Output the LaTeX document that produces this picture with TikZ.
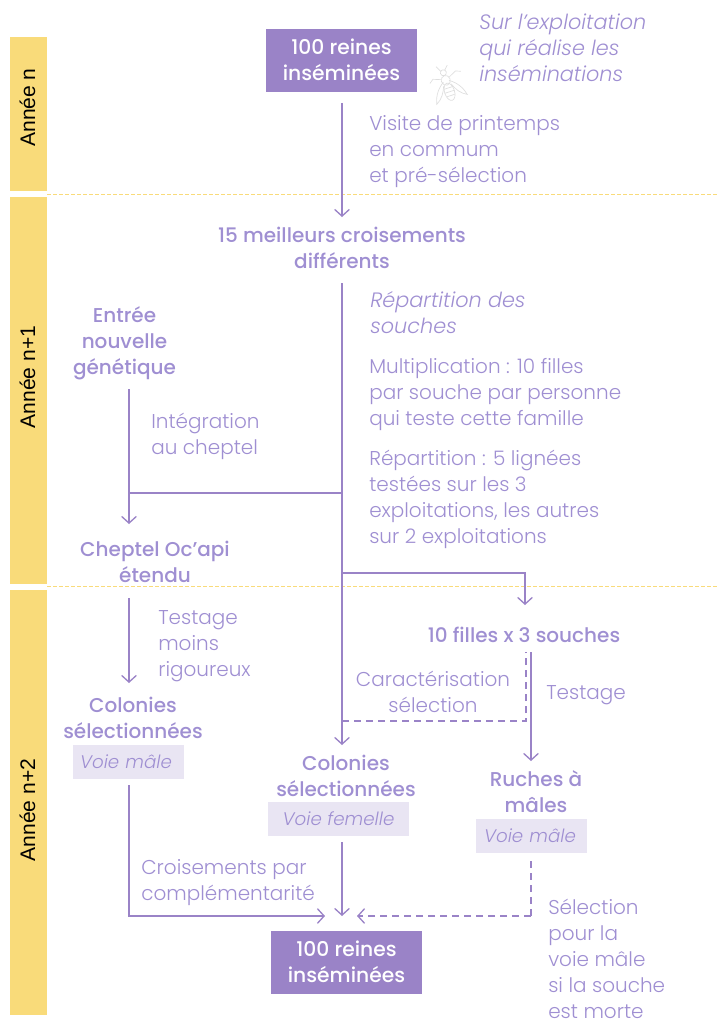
\documentclass[tikz,border=0pt]{standalone}
\usepackage{fontspec}
\setmainfont{Poppins Light}[BoldFont={Poppins Medium},ItalicFont={Poppins Light Italic}]
\newfontfamily\anneefont{Liberation Sans}
\usetikzlibrary{arrows.meta}
\definecolor{mauve}{HTML}{9A83C7}
\definecolor{lilas}{HTML}{9F8FD2}
\definecolor{pale}{HTML}{E9E5F3}
\definecolor{jaune}{HTML}{F9DB7A}
\tikzset{
  txt/.style={text=lilas,inner sep=0pt,align=left,font=\fontsize{15}{19.5}\selectfont},
  tit/.style={text=lilas,inner sep=0pt,align=center,font=\fontsize{15}{19.5}\selectfont\bfseries},
  ita/.style={text=lilas,inner sep=0pt,align=left,font=\fontsize{15.6}{19.5}\selectfont\itshape},
  boite/.style={fill=mauve,text=white,minimum width=113.25pt,minimum height=47.25pt,inner sep=0pt,align=center,font=\fontsize{15.2}{19.5}\selectfont\bfseries},
  voie/.style={fill=pale,text=lilas,minimum height=25.5pt,inner ysep=0pt,font=\fontsize{13.7}{18}\selectfont\itshape},
  bande/.style={fill=jaune,minimum width=27.75pt,inner sep=0pt},
  annee/.style={text=black,inner sep=0pt,rotate=90,font=\fontsize{15.8}{18}\anneefont},
  sep/.style={jaune,line width=0.6pt,dashed,dash pattern=on 3pt off 1.5pt},
  flow/.style={mauve,line width=1pt,-{Straight Barb[length=5pt,width=11pt,line width=1pt]}},
  fil/.style={mauve,line width=1pt},
  tir/.style={mauve,line width=1pt,dashed,dash pattern=on 5pt off 4pt}
}
\begin{document}
\begin{tikzpicture}[x=0.75pt,y=-0.75pt]
  \useasboundingbox (0,0) rectangle (718,1021);
  % annees
  \node[bande,minimum height=115.5pt] (ba) at (28.5,114) {};
  \node[bande,minimum height=290.25pt] (bb) at (28.5,390.5) {};
  \node[bande,minimum height=318.75pt] (bc) at (28.5,802.5) {};
  \node[annee] (la) at (27.5,107.5) {Année n};
  \node[annee] (lb) at (27.5,377) {Année n+1};
  \node[annee] (lc) at (27.5,810) {Année n+2};
  \draw[sep] (47,194.5)--(718,194.5);
  \draw[sep] (47,586.5)--(718,586.5);
  % boites
  \node[boite] (aa) at (341.5,60.5) {\raisebox{1pt}{100 reines}\\\raisebox{1pt}{inséminées}};
  \node[boite] (ab) at (346.5,962.5) {\raisebox{1pt}{100 reines}\\\raisebox{1pt}{inséminées}};
  \node[ita,anchor=west] (ac) at (479,48) {Sur l’exploitation\\qui réalise les\\inséminations};
  \node[txt,anchor=west] (ad) at (369,152) {Visite de printemps\\en commum\\et pré-sélection};
  \node[tit] (ae) at (342,248) {15 meilleurs croisements\\différents};
  \node[ita,anchor=west] (af) at (370,313) {Répartition des\\souches};
  \node[txt,anchor=west] (ag) at (369,395) {Multiplication : 10 filles\\par souche par personne\\qui teste cette famille};
  \node[txt,anchor=west] (ah) at (369,499) {Répartition : 5 lignées\\testées sur les 3\\exploitations, les autres\\sur 2 exploitations};
  \node[tit] (ca) at (124.5,343) {Entrée\\nouvelle\\génétique};
  \node[txt,anchor=west] (cb) at (151,436) {Intégration\\au cheptel};
  \node[tit] (cc) at (155,562) {Cheptel Oc’api\\étendu};
  \node[txt,anchor=west] (cd) at (158,646) {Testage\\moins\\rigoureux};
  \node[tit] (ce) at (133,718) {Colonies\\sélectionnées};
  \node[voie,inner xsep=5.25pt,text width=72.75pt,align=left] (cf) at (128.5,762) {Voie mâle};
  \node[txt,anchor=west] (cg) at (141,883) {Croisements par\\complémentarité};
  \node[tit] (da) at (346,775.5) {Colonies\\sélectionnées};
  \node[voie,minimum width=105.75pt,inner xsep=0pt] (db) at (338.5,819) {Voie femelle};
  \node[tit] (ea) at (524,635) {10 filles x 3 souches};
  \node[txt,align=center] (eb) at (433,692) {Caractérisation\\sélection};
  \node[txt,anchor=west] (ec) at (546,695) {Testage};
  \node[tit] (ed) at (536,792) {Ruches à\\mâles};
  \node[voie,inner xsep=6pt,text width=71.25pt,align=left] (ee) at (531.5,836) {Voie mâle};
  \node[txt,anchor=west] (ef) at (548,959) {Sélection\\pour la\\voie mâle\\si la souche\\est morte};
  % jonctions
  \coordinate (ja) at (342,283);
  \coordinate (jb) at (342,493);
  \coordinate (jc) at (342,573);
  \coordinate (jd) at (342,721);
  \coordinate (je) at (129,916);
  \coordinate (jf) at (342,745);
  \coordinate (jg) at (342,916);
  \coordinate (jh) at (531,916);
  \coordinate (ji) at (129,493);
  % fleches
  \draw[flow,shorten <=8pt] (aa.south-|jg)--(342,217);
  \draw[flow] (ja)--(jf);
  \draw[flow] (129,389)--(129,524);
  \draw[fil] (jb)--(ji);
  \draw[flow] (jc)--(525,573)--(525,605);
  \draw[tir] (jd)--(526,721)--(526,652);
  \draw[flow] (531,652)--(531,761);
  \draw[flow] (129,598)--(129,683);
  \draw[flow] (129,785)--(je)--(325,916);
  \draw[flow] (342,842)--(jg);
  \draw[tir,shorten <=6pt] (ee.south-|jh)--(jh);
  \draw[flow,dash pattern=on 5pt off 4pt] (jh)--(357,916);
  % abeille
  \begin{scope}[shift={(448,87)},rotate=18,draw=black!13,line width=0.5pt]
    \draw (0,-15) circle (3);
    \draw (0,-7) ellipse (4.5 and 5);
    \draw (0,5) ellipse (5 and 9);
    \draw (-4.5,1)--(4.5,1) (-5,5)--(5,5) (-4,9)--(4,9);
    \draw (-3,-6) .. controls (-12,0) and (-15,8) .. (-16,13) .. controls (-10,10) and (-6,4) .. (-4,-2);
    \draw (3,-6) .. controls (12,0) and (15,8) .. (16,13) .. controls (10,10) and (6,4) .. (4,-2);
    \draw (-2,-17)--(-5,-23) (2,-17)--(6,-21);
    \draw (-4,-9)--(-12,-12)--(-16,-9) (4,-9)--(12,-13)--(17,-11);
  \end{scope}
\end{tikzpicture}
\end{document}
